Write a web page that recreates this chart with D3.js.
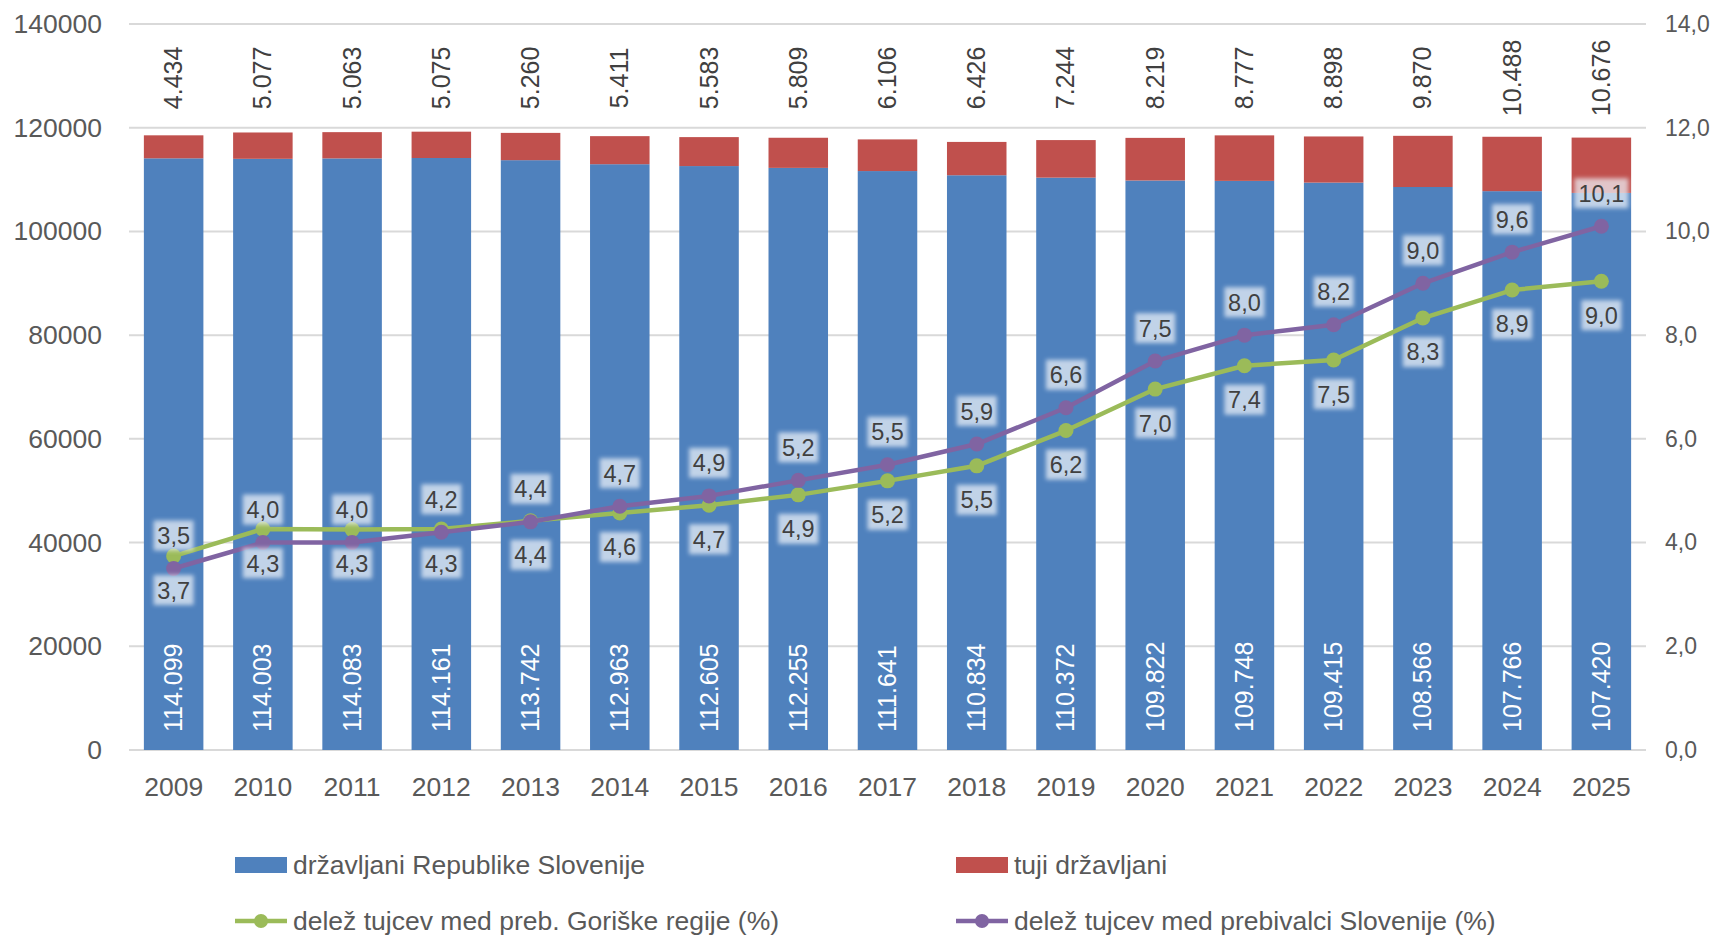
<!DOCTYPE html>
<html>
<head>
<meta charset="utf-8">
<script src="https://cdn.jsdelivr.net/npm/d3@7"></script>
<style>
  body { margin: 0; background: #fff; }
  text { font-family: "Liberation Sans", Arial, sans-serif; }
</style>
</head>
<body>
<script>
var years = [2009, 2010, 2011, 2012, 2013, 2014, 2015, 2016, 2017, 2018, 2019, 2020, 2021, 2022, 2023, 2024, 2025];
var domestic = [114099, 114003, 114083, 114161, 113742, 112963, 112605, 112255, 111641, 110834, 110372, 109822, 109748, 109415, 108566, 107766, 107420];
var foreign = [4434, 5077, 5063, 5075, 5260, 5411, 5583, 5809, 6106, 6426, 7244, 8219, 8777, 8898, 9870, 10488, 10676];
var shareGoriska = [3.74, 4.26, 4.25, 4.26, 4.42, 4.57, 4.72, 4.92, 5.19, 5.48, 6.16, 6.96, 7.41, 7.52, 8.33, 8.87, 9.04];
var shareSlovenia = [3.5, 4.0, 4.0, 4.2, 4.4, 4.7, 4.9, 5.2, 5.5, 5.9, 6.6, 7.5, 8.0, 8.2, 9.0, 9.6, 10.1];
var leftTicks = [0, 20000, 40000, 60000, 80000, 100000, 120000, 140000];
var rightTicks = [0, 2, 4, 6, 8, 10, 12, 14];

var seriesNames = ["državljani Republike Slovenije", "tuji državljani",
                   "delež tujcev med preb. Goriške regije (%)", "delež tujcev med prebivalci Slovenije (%)"];
var colors = ["#4f81bd", "#c0504d", "#9bbb59", "#8064a2"];

var svg = {
  "width" : 1712,
  "height" : 938,
  "left" : 129,
  "right" : 1646,
  "top" : 24,
  "bottom" : 750
}

var dotFmt = d3.formatLocale({decimal: ",", thousands: ".", grouping: [3], currency: ["", ""]});
var intFmt = dotFmt.format(",d");
var pctFmt = dotFmt.format(".1f");

var x = d3.scaleBand()
          .domain(years)
          .range([svg.left, svg.right])
          .paddingInner(0.333)
          .paddingOuter(0.1667);

var yLeft = d3.scaleLinear()
              .domain([0, 140000])
              .range([svg.bottom, svg.top]);

var yRight = d3.scaleLinear()
               .domain([0, 14])
               .range([svg.bottom, svg.top]);

svg.whole = d3.select("body")
              .append("svg")
              .attr("width", svg.width)
              .attr("height", svg.height);

var defs = svg.whole.append("defs");
defs.append("filter")
    .attr("id", "glow")
    .attr("x", "-30%").attr("y", "-30%")
    .attr("width", "160%").attr("height", "160%")
    .append("feGaussianBlur")
    .attr("stdDeviation", 2.2);

// gridlines
svg.whole.append("g")
   .selectAll("line")
   .data(leftTicks)
   .join("line")
   .attr("x1", svg.left)
   .attr("x2", svg.right)
   .attr("y1", function(d) { return yLeft(d); })
   .attr("y2", function(d) { return yLeft(d); })
   .attr("stroke", "#d9d9d9")
   .attr("stroke-width", 2);

// left axis
var leftAxis = svg.whole.append("g")
                  .attr("transform", "translate(" + (svg.left - 27) + ",0)")
                  .call(d3.axisLeft(yLeft).tickValues(leftTicks).tickSize(0).tickPadding(0).tickFormat(d3.format("d")));
leftAxis.select(".domain").remove();
leftAxis.selectAll("text")
        .attr("font-size", 26.5)
        .attr("fill", "#595959")
        .attr("font-family", "Liberation Sans, Arial, sans-serif");

// right axis
var rightAxis = svg.whole.append("g")
                   .attr("transform", "translate(" + (svg.right + 19) + ",0)")
                   .call(d3.axisRight(yRight).tickValues(rightTicks).tickSize(0).tickPadding(0).tickFormat(pctFmt));
rightAxis.select(".domain").remove();
rightAxis.selectAll("text")
         .attr("font-size", 23)
         .attr("fill", "#595959")
         .attr("font-family", "Liberation Sans, Arial, sans-serif");

// x axis
var bottomAxis = svg.whole.append("g")
                    .attr("transform", "translate(0," + (svg.bottom + 27) + ")")
                    .call(d3.axisBottom(x).tickSize(0).tickPadding(0));
bottomAxis.select(".domain").remove();
bottomAxis.selectAll("text")
          .attr("font-size", 26.5)
          .attr("fill", "#595959")
          .attr("font-family", "Liberation Sans, Arial, sans-serif");

// stacked bars
var bars = svg.whole.append("g");
bars.selectAll("rect.dom")
    .data(years)
    .join("rect")
    .attr("class", "dom")
    .attr("x", function(d) { return x(d); })
    .attr("width", x.bandwidth())
    .attr("y", function(d, i) { return yLeft(domestic[i]); })
    .attr("height", function(d, i) { return yLeft(0) - yLeft(domestic[i]); })
    .attr("fill", colors[0]);

bars.selectAll("rect.for")
    .data(years)
    .join("rect")
    .attr("class", "for")
    .attr("x", function(d) { return x(d); })
    .attr("width", x.bandwidth())
    .attr("y", function(d, i) { return yLeft(domestic[i] + foreign[i]); })
    .attr("height", function(d, i) { return yLeft(domestic[i]) - yLeft(domestic[i] + foreign[i]); })
    .attr("fill", colors[1]);

// bar value labels
bars.selectAll("text.dom")
    .data(years)
    .join("text")
    .attr("class", "dom")
    .attr("transform", function(d) { return "translate(" + (x(d) + x.bandwidth() / 2 + 8.5) + "," + (svg.bottom - 18) + ") rotate(-90)"; })
    .attr("font-size", 25)
    .attr("fill", "#fff")
    .text(function(d, i) { return intFmt(domestic[i]); });

bars.selectAll("text.for")
    .data(years)
    .join("text")
    .attr("class", "for")
    .attr("transform", function(d) { return "translate(" + (x(d) + x.bandwidth() / 2 + 8.5) + "," + yLeft(129600) + ") rotate(-90)"; })
    .attr("text-anchor", "middle")
    .attr("font-size", 25)
    .attr("fill", "#404040")
    .text(function(d, i) { return intFmt(foreign[i]); });

// lines
var lineSeries = [
  { values: shareGoriska, color: colors[2], offset: 34 },
  { values: shareSlovenia, color: colors[3], offset: -33 }
];

var line = d3.line()
             .x(function(d, i) { return x(years[i]) + x.bandwidth() / 2; })
             .y(function(d) { return yRight(d); });

lineSeries.forEach(function(s) {
  svg.whole.append("path")
     .datum(s.values)
     .attr("d", line)
     .attr("fill", "none")
     .attr("stroke", s.color)
     .attr("stroke-width", 4.5)
     .attr("stroke-linejoin", "round");

  svg.whole.append("g")
     .selectAll("circle")
     .data(s.values)
     .join("circle")
     .attr("cx", function(d, i) { return x(years[i]) + x.bandwidth() / 2; })
     .attr("cy", function(d) { return yRight(d); })
     .attr("r", 7.5)
     .attr("fill", s.color);
});

// line value labels with soft boxes
lineSeries.forEach(function(s) {
  var g = svg.whole.append("g")
             .selectAll("g")
             .data(s.values)
             .join("g")
             .attr("transform", function(d, i) {
               return "translate(" + (x(years[i]) + x.bandwidth() / 2) + "," + (yRight(d) + s.offset) + ")";
             });

  g.append("rect")
   .attr("x", function(d) { return pctFmt(d).length > 3 ? -27 : -20; })
   .attr("y", -15)
   .attr("width", function(d) { return pctFmt(d).length > 3 ? 54 : 40; })
   .attr("height", 30)
   .attr("fill", "#eef3f9")
   .attr("opacity", 0.72)
   .attr("filter", "url(#glow)");

  g.append("text")
   .attr("text-anchor", "middle")
   .attr("dy", "0.36em")
   .attr("font-size", 23.5)
   .attr("fill", "#404040")
   .text(function(d) { return pctFmt(d); });
});

// legend
var legendItems = [
  { name: seriesNames[0], color: colors[0], type: "rect", x: 235, y: 865 },
  { name: seriesNames[1], color: colors[1], type: "rect", x: 956, y: 865 },
  { name: seriesNames[2], color: colors[2], type: "line", x: 235, y: 921 },
  { name: seriesNames[3], color: colors[3], type: "line", x: 956, y: 921 }
];

var legend = svg.whole.append("g")
                .selectAll("g")
                .data(legendItems)
                .join("g")
                .attr("transform", function(d) { return "translate(" + d.x + "," + d.y + ")"; });

legend.filter(function(d) { return d.type == "rect"; })
      .append("rect")
      .attr("x", 0)
      .attr("y", -8)
      .attr("width", 52)
      .attr("height", 16)
      .attr("fill", function(d) { return d.color; });

legend.filter(function(d) { return d.type == "line"; })
      .append("line")
      .attr("x1", 0)
      .attr("x2", 52)
      .attr("stroke", function(d) { return d.color; })
      .attr("stroke-width", 4.5);

legend.filter(function(d) { return d.type == "line"; })
      .append("circle")
      .attr("cx", 26)
      .attr("r", 7)
      .attr("fill", function(d) { return d.color; });

legend.append("text")
      .attr("x", 58)
      .attr("dy", "0.35em")
      .attr("font-size", 26.5)
      .attr("fill", "#595959")
      .text(function(d) { return d.name; });
</script>
</body>
</html>
